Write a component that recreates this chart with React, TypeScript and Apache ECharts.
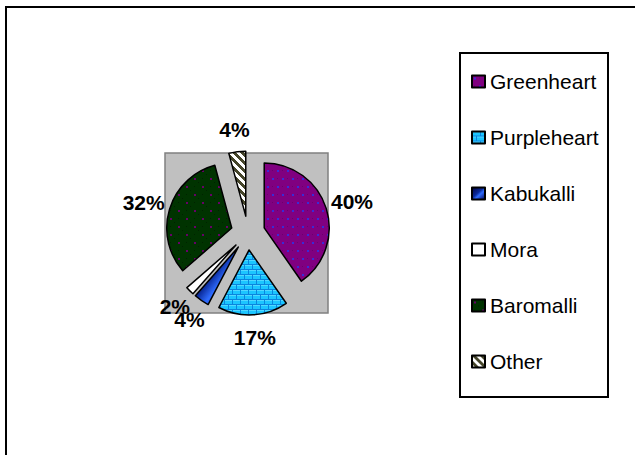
import React, { useEffect, useRef } from "react";
import * as echarts from "echarts";

const NAMES = ["Greenheart", "Purpleheart", "Kabukalli", "Mora", "Baromalli", "Other"];
const VALUES = [40.3, 17.4, 3.8, 2.1, 32.2, 4.2];

const FONT = "'Liberation Sans', Arial, sans-serif";
const CX = 248;
const CY = 233;
const R = 65;
const EXPLODE = 17;
const LABEL_GAP = 4;
const PAD_X = 2;
const PAD_Y = 8;

function makeCanvas(w: number, h: number, draw: (ctx: CanvasRenderingContext2D) => void) {
  const c = document.createElement("canvas");
  c.width = w;
  c.height = h;
  const ctx = c.getContext("2d")!;
  draw(ctx);
  return c;
}

function pattern(c: HTMLCanvasElement) {
  return { image: c, repeat: "repeat", imageWidth: c.width, imageHeight: c.height } as any;
}

function buildFills(): any[] {
  const green = makeCanvas(10, 16, (ctx) => {
    ctx.fillStyle = "#800080";
    ctx.fillRect(0, 0, 10, 16);
    ctx.fillStyle = "#6c006c";
    ctx.fillRect(7, 2, 1, 1);
    ctx.fillRect(2, 10, 1, 1);
    ctx.fillStyle = "#3a2ad8";
    ctx.fillRect(2, 2, 2, 2);
    ctx.fillRect(7, 10, 2, 2);
  });
  const brick = makeCanvas(8, 10, (ctx) => {
    ctx.fillStyle = "#1cc6ff";
    ctx.fillRect(0, 0, 8, 10);
    ctx.fillStyle = "#52d8ff";
    ctx.fillRect(1, 0, 7, 1);
    ctx.fillRect(0, 5, 4, 1);
    ctx.fillRect(5, 5, 3, 1);
    ctx.fillStyle = "#0a86de";
    ctx.fillRect(0, 4, 8, 1);
    ctx.fillRect(0, 9, 8, 1);
    ctx.fillRect(0, 0, 1, 4);
    ctx.fillRect(4, 5, 1, 4);
  });
  const baro = makeCanvas(16, 16, (ctx) => {
    ctx.fillStyle = "#003300";
    ctx.fillRect(0, 0, 16, 16);
    ctx.fillStyle = "#002200";
    ctx.fillRect(10, 2, 1, 1);
    ctx.fillRect(2, 10, 1, 1);
    ctx.fillRect(6, 6, 1, 1);
    ctx.fillRect(14, 14, 1, 1);
    ctx.fillStyle = "#660066";
    ctx.fillRect(2, 2, 2, 2);
    ctx.fillRect(10, 10, 2, 2);
  });
  const stripes = makeCanvas(8, 8, (ctx) => {
    for (let y = 0; y < 8; y++) {
      for (let x = 0; x < 8; x++) {
        ctx.fillStyle = (x - y + 16) % 8 < 4 ? "#45452a" : "#ffffff";
        ctx.fillRect(x, y, 1, 1);
      }
    }
  });
  const kabu = {
    type: "linear",
    x: 0,
    y: 0,
    x2: 1,
    y2: 1,
    colorStops: [
      { offset: 0, color: "#000040" },
      { offset: 0.45, color: "#0a2a9a" },
      { offset: 0.6, color: "#2f6cff" },
      { offset: 1, color: "#000050" },
    ],
  };
  return [pattern(green), pattern(brick), kabu, "#ffffff", pattern(baro), pattern(stripes)];
}

export default function App() {
  const ref = useRef<HTMLDivElement>(null);
  useEffect(() => {
    document.body.style.margin = "0";
    if (!ref.current) return;
    const chart = echarts.init(ref.current, null, { renderer: "svg" });
    const fills = buildFills();
    const total = VALUES.reduce((a, b) => a + b, 0);
    const mids: number[] = [];
    let acc = 0;
    VALUES.forEach((v) => {
      const start = (acc / total) * Math.PI * 2;
      acc += v;
      const end = (acc / total) * Math.PI * 2;
      mids.push((start + end) / 2);
    });

    const series = NAMES.map((name, k) => {
      const dirx = Math.sin(mids[k]);
      const diry = -Math.cos(mids[k]);
      const ax = CX + EXPLODE * dirx;
      const ay = CY + EXPLODE * diry;
      return {
        type: "pie",
        name,
        center: [ax, ay],
        radius: R,
        startAngle: 90,
        clockwise: true,
        avoidLabelOverlap: false,
        silent: true,
        label: { show: false },
        labelLine: { show: false },
        emphasis: { disabled: true },
        data: NAMES.map((n, j) =>
          j === k
            ? {
                name: n,
                value: VALUES[j],
                itemStyle: { color: fills[j], borderColor: "#000", borderWidth: 1.5 },
                label: {
                  show: true,
                  position: "outside",
                  formatter: Math.round((VALUES[j] / total) * 100) + "%",
                  fontFamily: FONT,
                  fontSize: 21,
                  fontWeight: "bold",
                  color: "#000",
                },
              }
            : {
                name: n,
                value: VALUES[j],
                itemStyle: { color: "rgba(0,0,0,0)", borderWidth: 0 },
                label: { show: false },
              }
        ),
        labelLayout: (params: any) => {
          const w = params.labelRect.width + 2 * PAD_X;
          const h = params.labelRect.height + 2 * PAD_Y;
          const px = ax + (R + LABEL_GAP) * dirx;
          const py = ay + (R + LABEL_GAP) * diry;
          return {
            x: px + (dirx * w) / 2,
            y: py + (diry * h) / 2,
            align: "center",
            verticalAlign: "middle",
          };
        },
      };
    });

    chart.setOption({
      animation: false,
      graphic: [
        {
          type: "rect",
          z: -10,
          shape: { x: 6, y: 7, width: 700, height: 500 },
          style: { fill: "#ffffff", stroke: "#000", lineWidth: 2 },
        },
        {
          type: "rect",
          z: -5,
          shape: { x: 165, y: 153, width: 163, height: 160 },
          style: { fill: "#c0c0c0", stroke: "#808080", lineWidth: 1.5 },
        },
        {
          type: "rect",
          z: -5,
          shape: { x: 460, y: 53, width: 148, height: 344 },
          style: { fill: "#ffffff", stroke: "#000", lineWidth: 2 },
        },
      ],
      legend: {
        orient: "vertical",
        left: 471,
        top: 71,
        padding: 0,
        itemWidth: 13,
        itemHeight: 12,
        itemGap: 35,
        icon: "rect",
        selectedMode: false,
        textStyle: { fontFamily: FONT, fontSize: 21, color: "#000", padding: [0, 0, 0, 0] },
        data: NAMES.map((n, i) => ({
          name: n,
          itemStyle: { color: fills[i], borderColor: "#000", borderWidth: 2 },
        })),
      },
      series,
    });
    return () => chart.dispose();
  }, []);
  return <div ref={ref} style={{ width: 635, height: 455 }} />;
}
